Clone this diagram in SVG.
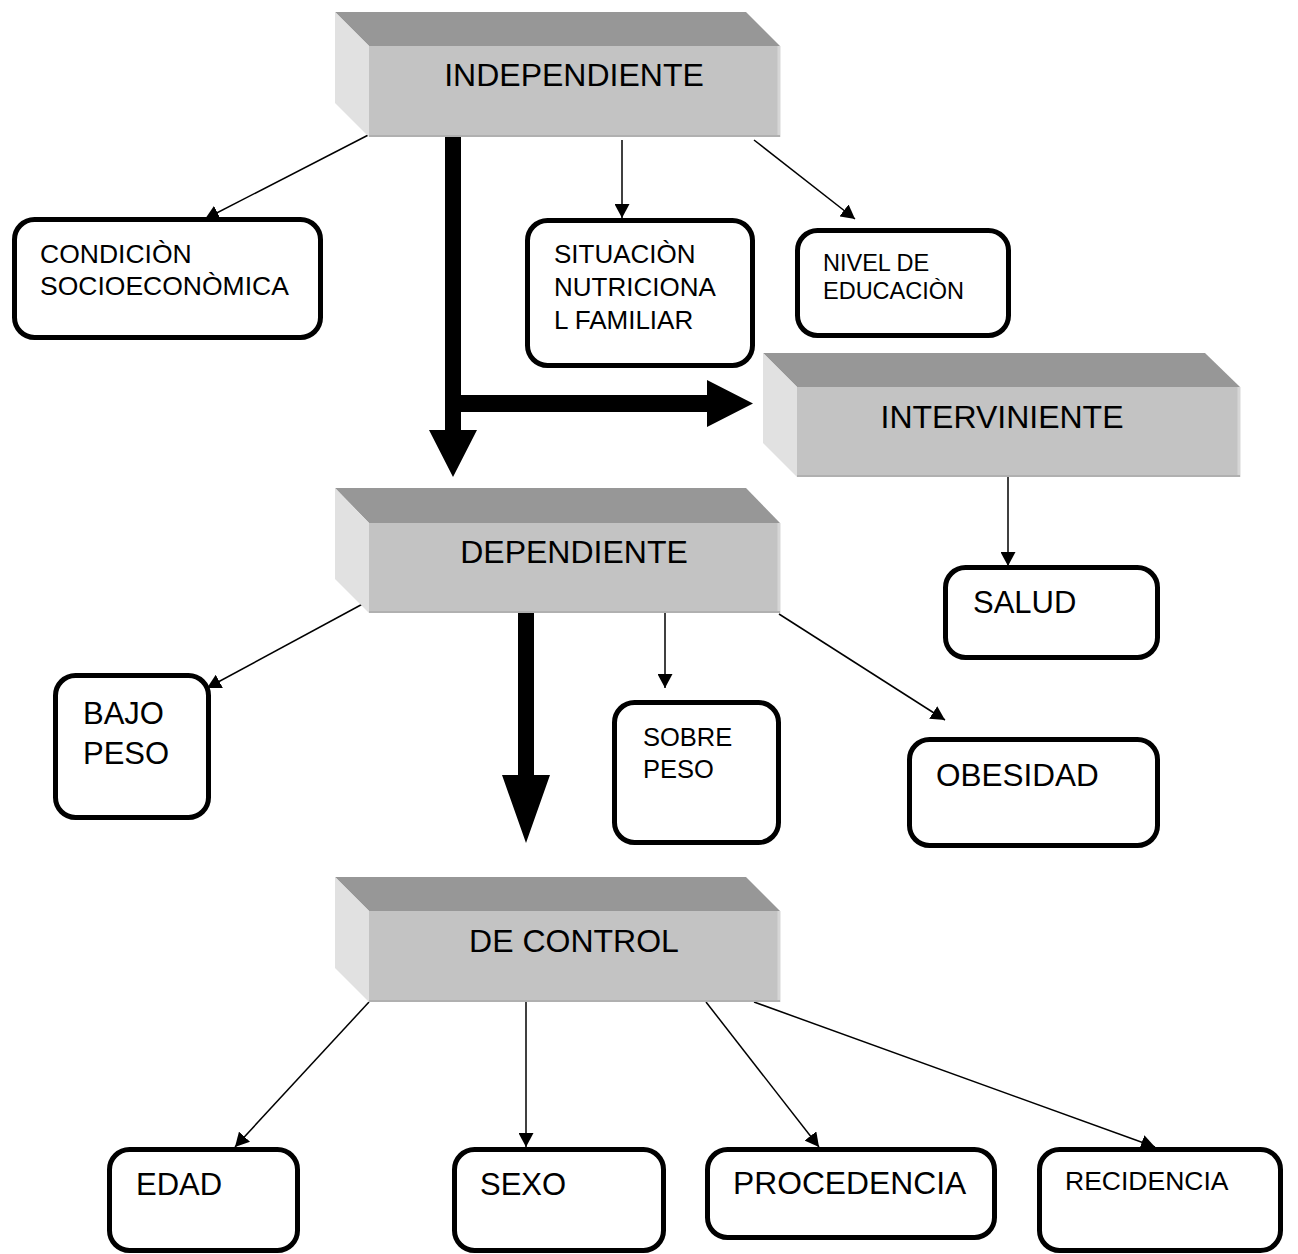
<svg xmlns="http://www.w3.org/2000/svg" width="1298" height="1254" viewBox="0 0 1298 1254">
<defs>
<marker id="ah" markerUnits="userSpaceOnUse" markerWidth="15" markerHeight="15" refX="14" refY="7.5" orient="auto">
<path d="M0,0 L14,7.5 L0,15 Z" fill="#000"/>
</marker>
<style>
.top{fill:#979797}
.left{fill:#e1e1e1}
.front{fill:#c3c3c3}
.edge{stroke:#b0b0b0;stroke-width:2}
.redge{stroke:#d6d6d6;stroke-width:3}
.box{fill:#fff;stroke:#000;stroke-width:5}
.t{font-family:"Liberation Sans",Arial,sans-serif;fill:#000}
.h{font-size:32px;text-anchor:middle}
.ln{stroke:#000;stroke-width:1.5;fill:none;marker-end:url(#ah)}
</style>
</defs>
<rect width="1298" height="1254" fill="#fff"/>
<g id="connectors">
<path d="M445,137 L461,137 L461,395 L707,395 L707,380 L753,403.5 L707,427 L707,412 L461,412 L461,430 L477,430 L453,477 L429,430 L445,430 Z" fill="#000"/>
<path d="M518,613 L534,613 L534,775 L550,775 L526,843 L502,775 L518,775 Z" fill="#000"/>
<line class="ln" x1="378" y1="130" x2="205" y2="219"/>
<line class="ln" x1="622" y1="140" x2="622" y2="218"/>
<line class="ln" x1="754" y1="140" x2="855" y2="219"/>
<line class="ln" x1="1008" y1="477" x2="1008" y2="566"/>
<line class="ln" x1="370" y1="600" x2="207" y2="688"/>
<line class="ln" x1="665" y1="613" x2="665" y2="688"/>
<line class="ln" x1="779" y1="614" x2="945" y2="720"/>
<line class="ln" x1="369" y1="1002" x2="235" y2="1147"/>
<line class="ln" x1="526" y1="1002" x2="526" y2="1147"/>
<line class="ln" x1="706" y1="1002" x2="819" y2="1147"/>
<line class="ln" x1="754" y1="1002" x2="1155" y2="1147"/>
</g>
<g id="independiente">
<polygon class="top" points="335,12 746,12 780,46 369,46"/>
<polygon class="left" points="335,12 369,46 369,137 335,103"/>
<rect class="front" x="369" y="46" width="411" height="91"/>
<line class="redge" x1="779" y1="46" x2="779" y2="137"/>
<line class="edge" x1="369" y1="136" x2="780" y2="136"/>
<text class="t h" x="574" y="86">INDEPENDIENTE</text>
</g>
<g id="intervinente">
<polygon class="top" points="763,353 1205,353 1240,387 797,387"/>
<polygon class="left" points="763,353 797,387 797,477 763,443"/>
<rect class="front" x="797" y="387" width="443" height="90"/>
<line class="redge" x1="1239" y1="387" x2="1239" y2="477"/>
<line class="edge" x1="797" y1="476" x2="1240" y2="476"/>
<text class="t h" x="1002" y="428">INTERVINIENTE</text>
</g>
<g id="dependiente">
<polygon class="top" points="335,488 746,488 780,523 369,523"/>
<polygon class="left" points="335,488 369,523 369,613 335,579"/>
<rect class="front" x="369" y="523" width="411" height="90"/>
<line class="redge" x1="779" y1="523" x2="779" y2="613"/>
<line class="edge" x1="369" y1="612" x2="780" y2="612"/>
<text class="t h" x="574" y="563">DEPENDIENTE</text>
</g>
<g id="decontrol">
<polygon class="top" points="335,877 746,877 780,911 369,911"/>
<polygon class="left" points="335,877 369,911 369,1002 335,968"/>
<rect class="front" x="369" y="911" width="411" height="91"/>
<line class="redge" x1="779" y1="911" x2="779" y2="1002"/>
<line class="edge" x1="369" y1="1001" x2="780" y2="1001"/>
<text class="t h" x="574" y="952">DE CONTROL</text>
</g>
<g id="condicion">
<rect class="box" x="14.5" y="219.5" width="306" height="118" rx="20"/>
<text class="t" x="40" y="263" font-size="26.5">CONDICIÒN</text>
<text class="t" x="40" y="295" font-size="26.5">SOCIOECONÒMICA</text>
</g>
<g id="situacion">
<rect class="box" x="527.5" y="220.5" width="225" height="145" rx="20"/>
<text class="t" x="554" y="263" font-size="26">SITUACIÒN</text>
<text class="t" x="554" y="296" font-size="26">NUTRICIONA</text>
<text class="t" x="554" y="329" font-size="26">L FAMILIAR</text>
</g>
<g id="nivel">
<rect class="box" x="797.5" y="230.5" width="211" height="105" rx="20"/>
<text class="t" x="823" y="271" font-size="23.5">NIVEL DE</text>
<text class="t" x="823" y="299" font-size="23.5">EDUCACIÒN</text>
</g>
<g id="salud">
<rect class="box" x="945.5" y="567.5" width="212" height="90" rx="20"/>
<text class="t" x="973" y="613" font-size="31">SALUD</text>
</g>
<g id="bajopeso">
<rect class="box" x="55.5" y="675.5" width="153" height="142" rx="20"/>
<text class="t" x="83" y="724" font-size="31">BAJO</text>
<text class="t" x="83" y="764" font-size="31">PESO</text>
</g>
<g id="sobrepeso">
<rect class="box" x="614.5" y="702.5" width="164" height="140" rx="20"/>
<text class="t" x="643" y="746" font-size="25.5">SOBRE</text>
<text class="t" x="643" y="778" font-size="25.5">PESO</text>
</g>
<g id="obesidad">
<rect class="box" x="909.5" y="739.5" width="248" height="106" rx="20"/>
<text class="t" x="936" y="786" font-size="31.5">OBESIDAD</text>
</g>
<g id="edad">
<rect class="box" x="109.5" y="1149.5" width="188" height="101" rx="20"/>
<text class="t" x="136" y="1195" font-size="31">EDAD</text>
</g>
<g id="sexo">
<rect class="box" x="454.5" y="1149.5" width="209" height="101" rx="20"/>
<text class="t" x="480" y="1195" font-size="31">SEXO</text>
</g>
<g id="procedencia">
<rect class="box" x="707.5" y="1149.5" width="287" height="88" rx="20"/>
<text class="t" x="733" y="1194" font-size="31.8">PROCEDENCIA</text>
</g>
<g id="recidencia">
<rect class="box" x="1039.5" y="1149.5" width="241" height="101" rx="20"/>
<text class="t" x="1065" y="1190" font-size="26.5">RECIDENCIA</text>
</g>
</svg>
